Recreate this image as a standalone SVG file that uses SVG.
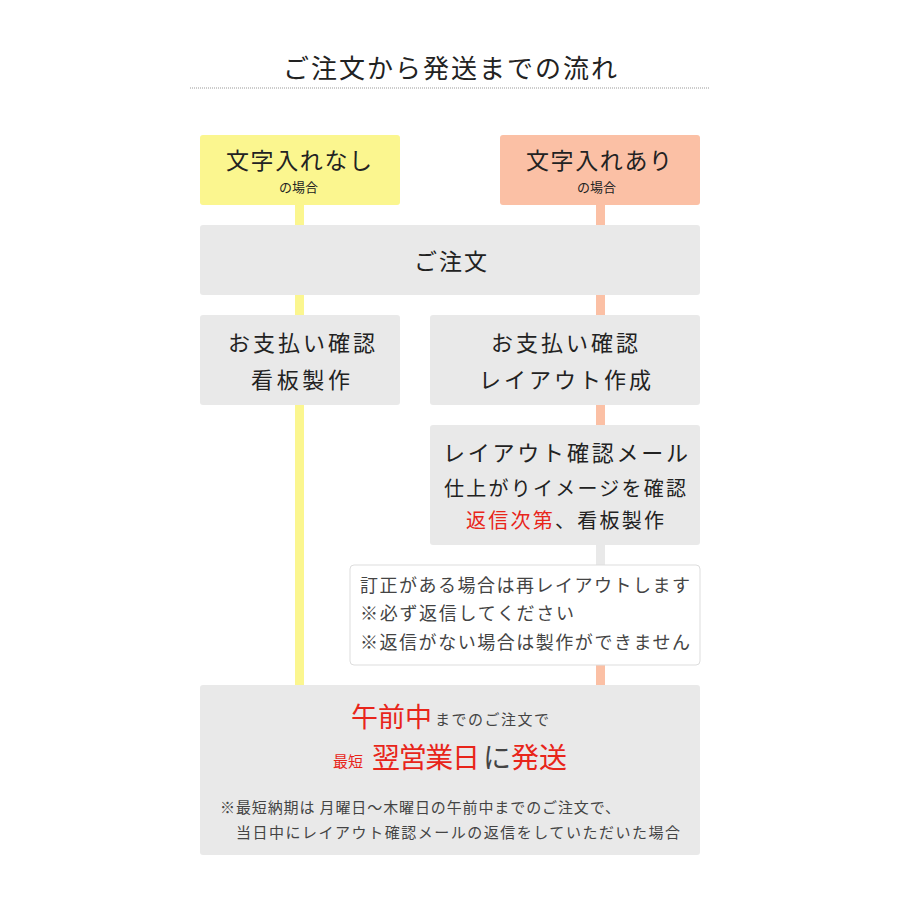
<svg xmlns="http://www.w3.org/2000/svg" width="900" height="900" viewBox="0 0 900 900">
<style>
text{font-family:"Noto Sans CJK JP","Noto Sans",sans-serif;fill:#222;text-anchor:start}
.g{fill:#e9e9e9}
.r{fill:#e8251a}
.s{fill:#444}
</style>
<rect width="900" height="900" fill="#fff"/>
<text x="283" y="78" font-size="26" textLength="334" lengthAdjust="spacing">ご注文から発送までの流れ</text>
<line x1="190" y1="88" x2="710" y2="88" stroke="#999" stroke-width="1" stroke-dasharray="1 1"/>
<g id="connectors">
<rect x="295" y="205" width="9" height="480" fill="#fbf68f"/>
<rect x="596" y="205" width="9" height="120" fill="#fbc0a5"/>
<rect x="596" y="405" width="9" height="20" fill="#fbc0a5"/>
<rect x="596" y="545" width="9" height="20" fill="#e9e9e9"/>
<rect x="596" y="665" width="9" height="20" fill="#fbc0a5"/>
</g>
<g id="n1"><rect x="200" y="135" width="200" height="70" rx="3" fill="#fbf68f"/>
<text x="226" y="169" font-size="23" textLength="146" lengthAdjust="spacing">文字入れなし</text><text x="279" y="192" font-size="13">の場合</text></g>
<g id="n2"><rect x="500" y="135" width="200" height="70" rx="3" fill="#fbc0a5"/>
<text x="526" y="169" font-size="23" textLength="146" lengthAdjust="spacing">文字入れあり</text><text x="577" y="192" font-size="13">の場合</text></g>
<g id="n3"><rect class="g" x="200" y="225" width="500" height="70" rx="3"/>
<text x="414" y="270" font-size="23" textLength="73" lengthAdjust="spacing">ご注文</text></g>
<g id="n4"><rect class="g" x="200" y="315" width="200" height="90" rx="3"/>
<text x="228" y="351" font-size="22" textLength="147" lengthAdjust="spacing">お支払い確認</text><text x="251" y="388" font-size="22" textLength="99" lengthAdjust="spacing">看板製作</text></g>
<g id="n5"><rect class="g" x="430" y="315" width="270" height="90" rx="3"/>
<text x="491" y="351" font-size="22" textLength="147" lengthAdjust="spacing">お支払い確認</text><text x="479" y="388" font-size="22" textLength="172" lengthAdjust="spacing">レイアウト作成</text></g>
<g id="n6"><rect class="g" x="430" y="425" width="270" height="120" rx="3"/>
<text x="443" y="461" font-size="22" textLength="245" lengthAdjust="spacing">レイアウト確認メール</text>
<text x="444" y="496" font-size="20" textLength="242" lengthAdjust="spacing">仕上がりイメージを確認</text>
<text x="466" y="528" font-size="20" textLength="198" lengthAdjust="spacing"><tspan class="r">返信次第</tspan>、看板製作</text></g>
<g id="n7"><rect x="350" y="565" width="350" height="100" rx="4" fill="#fff" stroke="#ddd"/>
<text x="360" y="592" font-size="18" class="s" textLength="330" lengthAdjust="spacing">訂正がある場合は再レイアウトします</text>
<text x="360" y="620" font-size="18" class="s" textLength="214" lengthAdjust="spacing">※必ず返信してください</text>
<text x="360" y="649" font-size="18" class="s" textLength="330" lengthAdjust="spacing">※返信がない場合は製作ができません</text></g>
<g id="n8"><rect class="g" x="200" y="685" width="500" height="170" rx="3"/>
<text x="351" y="727" font-size="27" class="r" textLength="81" lengthAdjust="spacing">午前中</text>
<text x="435" y="725" font-size="15" class="s" textLength="114" lengthAdjust="spacing">までのご注文で</text>
<text x="333" y="767" font-size="15" class="r">最短</text>
<text x="372" y="768" font-size="28" class="r" textLength="108" lengthAdjust="spacing">翌営業日</text>
<text x="483" y="768" font-size="28" class="s">に</text>
<text x="511" y="768" font-size="28" class="r">発送</text>
<text x="220" y="813" font-size="15" class="s" textLength="400" lengthAdjust="spacing">※最短納期は 月曜日～木曜日の午前中までのご注文で、</text>
<text x="236" y="838" font-size="15" class="s" textLength="444" lengthAdjust="spacing">当日中にレイアウト確認メールの返信をしていただいた場合</text></g>
</svg>
